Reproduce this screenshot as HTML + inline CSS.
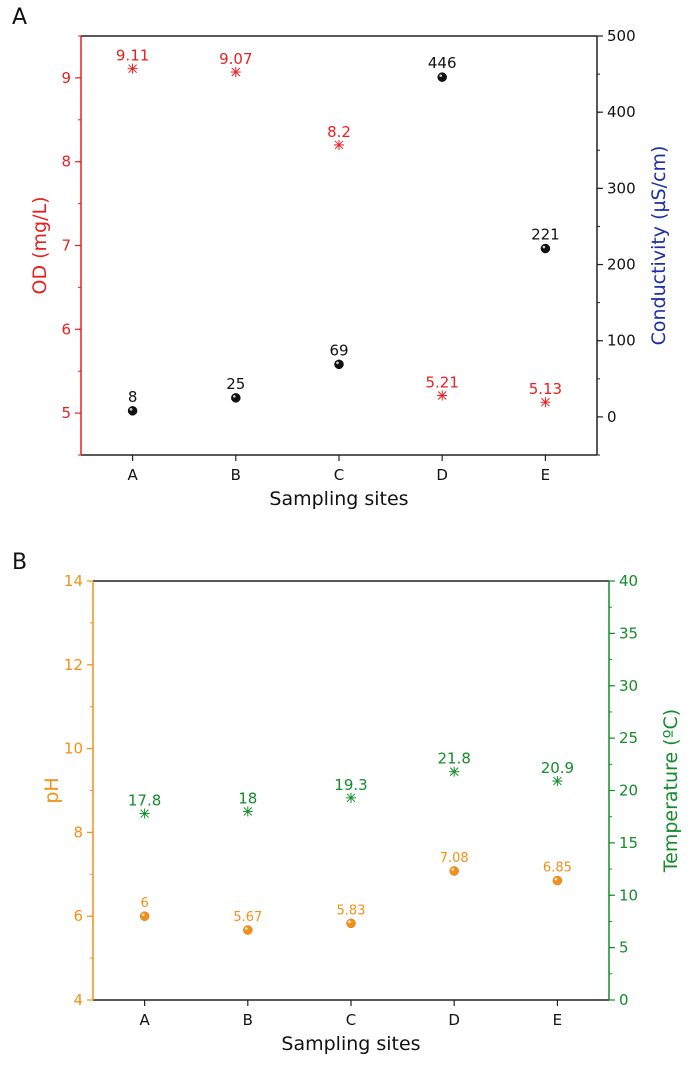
<!DOCTYPE html>
<html><head><meta charset="utf-8"><style>
html,body{margin:0;padding:0;background:#fff;}
svg{display:block;font-family:"DejaVu Sans","Liberation Sans",sans-serif;}
</style></head><body>
<svg id="s" width="689" height="1074" xmlns="http://www.w3.org/2000/svg"></svg>
<script>
const sites = ["A","B","C","D","E"];
const odValues = [9.11, 9.07, 8.2, 5.21, 5.13];
const odLabels = ["9.11","9.07","8.2","5.21","5.13"];
const condValues = [8, 25, 69, 446, 221];
const condLabels = ["8","25","69","446","221"];
const phValues = [6, 5.67, 5.83, 7.08, 6.85];
const phLabels = ["6","5.67","5.83","7.08","6.85"];
const tempValues = [17.8, 18, 19.3, 21.8, 20.9];
const tempLabels = ["17.8","18","19.3","21.8","20.9"];
const odTicks = [5,6,7,8,9];
const condTicks = [0,100,200,300,400,500];
const phTicks = [4,6,8,10,12,14];
const tempTicks = [0,5,10,15,20,25,30,35,40];

const S = document.getElementById('s');
const NS = "http://www.w3.org/2000/svg";
function mk(tag, at, parent){const e=document.createElementNS(NS,tag);for(const k in at)e.setAttribute(k,at[k]);(parent||S).appendChild(e);return e;}
function txt(x,y,t,at,parent){const e=mk('text',Object.assign({x:x,y:y},at),parent);e.textContent=t;return e;}

const RED="#e8201f", ORANGE="#f39019", GREEN="#148c2a", BLUE="#1a2fa8";

function panel(cfg){
  const g=mk('g',{});
  
  
  const L=cfg.L,R=cfg.R,T=cfg.T,B=cfg.B;
  const yl=v=>B-(v-cfg.lmin)/(cfg.lmax-cfg.lmin)*(B-T);
  const yr=v=>B-(v-cfg.rmin)/(cfg.rmax-cfg.rmin)*(B-T);
  const xs=i=>L+(R-L)*(0.1+0.2*i);
  let e=mk('line',{x1:L,y1:T,x2:R,y2:T,stroke:'#222','stroke-width':1.5},g);
  
  e=mk('line',{x1:L,y1:B,x2:R,y2:B,stroke:'#222','stroke-width':1.5},g);
  
  e=mk('line',{x1:L,y1:T,x2:L,y2:B,stroke:cfg.lcol,'stroke-width':1.5},g);
  
  e=mk('line',{x1:R,y1:T,x2:R,y2:B,stroke:cfg.rcol,'stroke-width':1.5},g);
  
  cfg.lticks.forEach(v=>{
    const y=yl(v);
    mk('line',{x1:L-6,y1:y,x2:L,y2:y,stroke:cfg.lcol,'stroke-width':1.2},g);
    const t=txt(L-10,y+5,String(v),{'text-anchor':'end','font-size':15,fill:cfg.lcol},g);
    
  });
  for(let v=cfg.lmin;v<=cfg.lmax+1e-9;v+=cfg.lminor){const y=yl(v);mk('line',{x1:L-3,y1:y,x2:L,y2:y,stroke:cfg.lcol,'stroke-width':1},g);}
  cfg.rticks.forEach(v=>{
    const y=yr(v);
    mk('line',{x1:R,y1:y,x2:R+6,y2:y,stroke:cfg.rcol,'stroke-width':1.2},g);
    const t=txt(R+10,y+5,String(v),{'font-size':15,fill:cfg.rtcol},g);
    
  });
  for(let v=cfg.rmin;v<=cfg.rmax+1e-9;v+=cfg.rminor){const y=yr(v);mk('line',{x1:R,y1:y,x2:R+3,y2:y,stroke:cfg.rcol,'stroke-width':1},g);}
  sites.forEach((s,i)=>{
    const x=xs(i);
    mk('line',{x1:x,y1:B,x2:x,y2:B+6,stroke:'#222','stroke-width':1.2},g);
    const t=txt(x,B+25,s,{'text-anchor':'middle','font-size':15,fill:'#111'},g);
    
  });
  let t=txt((L+R)/2,B+50,'Sampling sites',{'text-anchor':'middle','font-size':19,fill:'#111'},g);
  
  t=txt(0,0,cfg.ltitle,{'text-anchor':'middle','font-size':19,fill:cfg.lcol,transform:`translate(${L-35},${(T+B)/2}) rotate(-90)`},g);
  
  t=txt(0,0,cfg.rtitle,{'text-anchor':'middle','font-size':19,fill:cfg.rtitlecol,transform:`translate(${R+68},${(T+B)/2}) rotate(-90)`},g);
  
  t=txt(12,T-12,cfg.letter,{'font-size':22,fill:'#111'},g);
  
  cfg.star.vals.forEach((v,i)=>{
    const x=xs(i), y=(cfg.star.side==='l'?yl:yr)(v);
    const sg=mk('g',{stroke:cfg.star.col,'stroke-width':1},g);
    
    mk('line',{x1:x-5,y1:y,x2:x+5,y2:y},sg);mk('line',{x1:x,y1:y-5,x2:x,y2:y+5},sg);
    mk('line',{x1:x-4,y1:y-4,x2:x+4,y2:y+4},sg);mk('line',{x1:x-4,y1:y+4,x2:x+4,y2:y-4},sg);
    const lt=txt(x,y-8,cfg.star.labels[i],{'text-anchor':'middle','font-size':cfg.star.fs,fill:cfg.star.col},g);
    
  });
  cfg.dot.vals.forEach((v,i)=>{
    const x=xs(i), y=(cfg.dot.side==='l'?yl:yr)(v);
    const c=mk('circle',{cx:x,cy:y,r:4.5,fill:cfg.dot.col,stroke:cfg.dot.stroke,'stroke-width':0.5},g);
    
    mk('circle',{cx:x-1.5,cy:y-1.5,r:1.3,fill:'#fff',opacity:0.8},g);
    const lt=txt(x,y-9,cfg.dot.labels[i],{'text-anchor':'middle','font-size':cfg.dot.fs,fill:cfg.dot.tcol},g);
    
  });
}
panel({name:'panel-a',letter:'A',L:81,R:597,T:36,B:455,lmin:4.5,lmax:9.5,lticks:odTicks,lminor:0.5,lcol:RED,
  rmin:-50,rmax:500,rticks:condTicks,rminor:50,rcol:'#222',rtcol:'#111',
  ltitle:'OD (mg/L)',rtitle:'Conductivity (µS/cm)',rtitlecol:BLUE,
  star:{vals:odValues,labels:odLabels,side:'l',col:RED,fs:15},
  dot:{vals:condValues,labels:condLabels,side:'r',col:'#111',stroke:'#000',tcol:'#111',fs:15}});
panel({name:'panel-b',letter:'B',L:93,R:609,T:581,B:1000,lmin:4,lmax:14,lticks:phTicks,lminor:1,lcol:ORANGE,
  rmin:0,rmax:40,rticks:tempTicks,rminor:2.5,rcol:GREEN,rtcol:GREEN,
  ltitle:'pH',rtitle:'Temperature (ºC)',rtitlecol:GREEN,
  star:{vals:tempValues,labels:tempLabels,side:'r',col:GREEN,fs:15},
  dot:{vals:phValues,labels:phLabels,side:'l',col:ORANGE,stroke:'#d9700a',tcol:ORANGE,fs:13}});
</script>
</body></html>
